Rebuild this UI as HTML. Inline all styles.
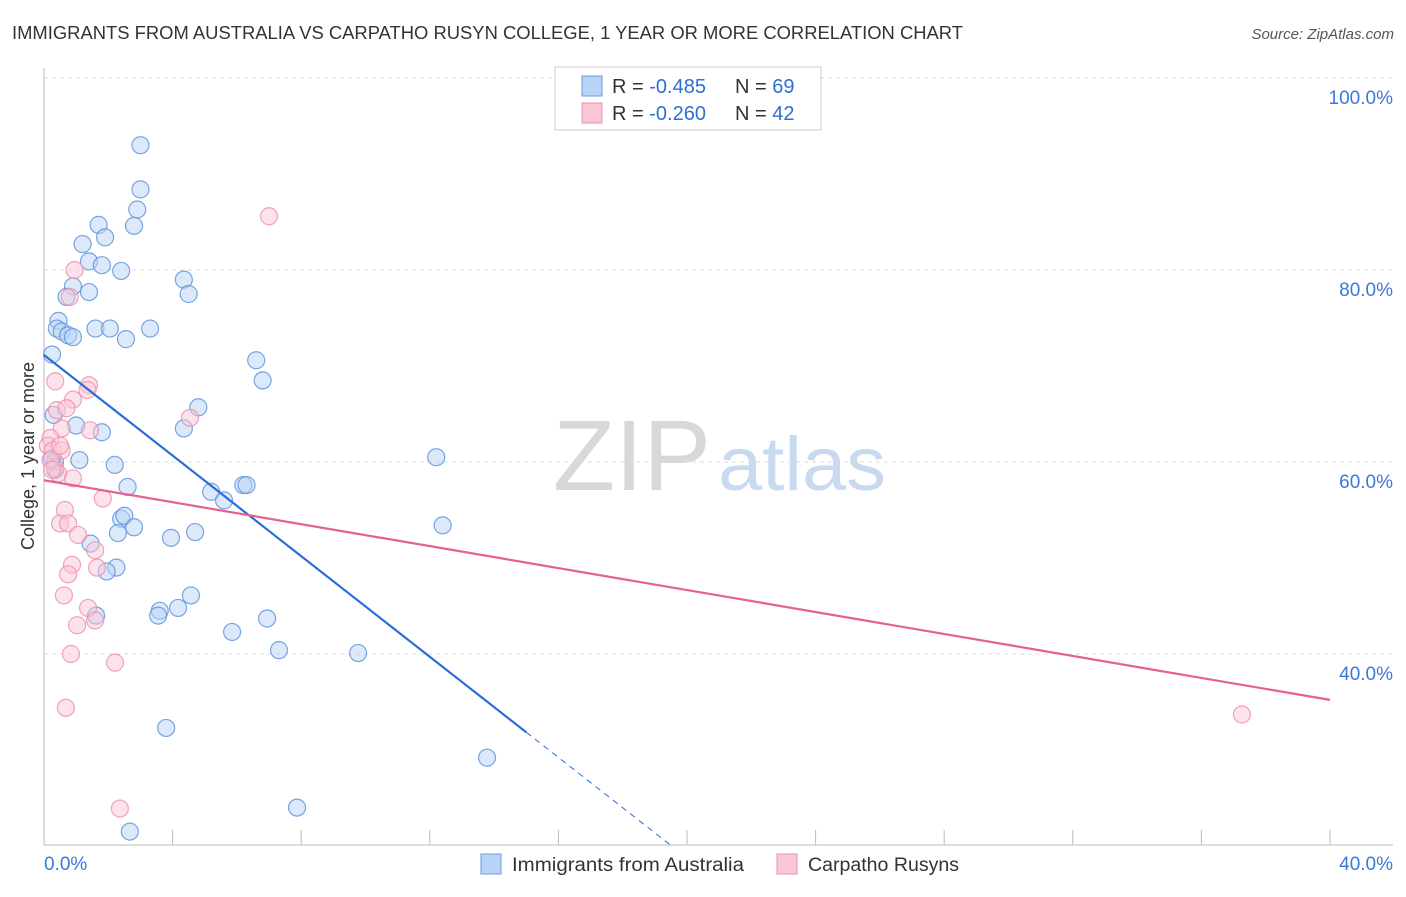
<!DOCTYPE html>
<html><head><meta charset="utf-8"><style>
body{margin:0;background:#fff;font-family:"Liberation Sans",sans-serif;}
svg text{font-family:"Liberation Sans",sans-serif;}
</style></head><body>
<svg id="chart" width="1406" height="892" viewBox="0 0 1406 892">
<text x="12" y="39" font-size="18" fill="#333" textLength="951" lengthAdjust="spacingAndGlyphs">IMMIGRANTS FROM AUSTRALIA VS CARPATHO RUSYN COLLEGE, 1 YEAR OR MORE CORRELATION CHART</text>
<text x="1394" y="39" font-size="15" fill="#555" font-style="italic" text-anchor="end">Source: ZipAtlas.com</text>
<g>
<text x="553" y="490" font-size="100" fill="#d8d8d8" font-family="Liberation Serif,serif" textLength="158" lengthAdjust="spacingAndGlyphs">ZIP</text>
<text x="718" y="490" font-size="76" fill="#c9daf0" textLength="168" lengthAdjust="spacingAndGlyphs">atlas</text>
</g>
<g id="grid"></g>
<g id="axes"></g>
<g id="marks"></g>
<g id="lines"></g>
<text x="34" y="456" font-size="18" fill="#333" text-anchor="middle" transform="rotate(-90 34 456)">College, 1 year or more</text>
<g>
<rect x="555" y="67" width="266" height="63" fill="#fff" stroke="#ccc"/>
<rect x="582" y="76" width="20" height="20" fill="#b8d3f5" stroke="#6a9be0"/>
<rect x="582" y="103" width="20" height="20" fill="#f9c6d5" stroke="#ec8fab"/>
<text y="93" font-size="20" fill="#333"><tspan x="612">R = </tspan><tspan fill="#2f6fd0">-0.485</tspan><tspan x="735">N = </tspan><tspan fill="#2f6fd0">69</tspan></text>
<text y="120" font-size="20" fill="#333"><tspan x="612">R = </tspan><tspan fill="#2f6fd0">-0.260</tspan><tspan x="735">N = </tspan><tspan fill="#2f6fd0">42</tspan></text>
</g>
<g>
<rect x="481" y="854" width="20" height="20" fill="#b8d3f5" stroke="#6a9be0"/>
<text x="512" y="871" font-size="19" fill="#333" textLength="232" lengthAdjust="spacingAndGlyphs">Immigrants from Australia</text>
<rect x="777" y="854" width="20" height="20" fill="#f9c6d5" stroke="#ec8fab"/>
<text x="808" y="871" font-size="19" fill="#333" textLength="151" lengthAdjust="spacingAndGlyphs">Carpatho Rusyns</text>
</g>
</svg>
<script>
const yTicks=[40,60,80,100];
const yTickLabels=["40.0%","60.0%","80.0%","100.0%"];
const xTicks=[0,4,8,12,16,20,24,28,32,36,40];
const xEndLabels=["0.0%","40.0%"];
const blueX=[3.0,3.0,2.9,2.8,1.7,1.9,1.2,1.4,1.8,2.4,0.9,1.4,0.7,4.35,4.5,0.45,0.4,0.55,0.75,0.9,1.6,2.05,3.3,2.55,0.25,6.6,6.8,4.8,4.35,0.3,1.0,1.8,1.1,2.2,0.35,2.6,5.2,5.6,6.2,6.3,12.2,2.4,2.5,2.8,2.3,3.95,4.7,1.45,2.25,1.95,12.4,4.57,3.6,4.17,3.55,1.62,6.94,5.85,7.31,9.77,3.8,13.78,7.87,2.67,0.34,0.25];
const blueY=[93.0,88.4,86.3,84.6,84.7,83.4,82.7,80.9,80.5,79.9,78.3,77.7,77.2,79.0,77.5,74.7,73.9,73.6,73.2,73.0,73.9,73.9,73.9,72.8,71.2,70.6,68.5,65.7,63.5,64.9,63.8,63.1,60.2,59.7,59.2,57.4,56.9,56.0,57.6,57.6,60.5,54.1,54.4,53.2,52.6,52.1,52.7,51.5,49.0,48.6,53.4,46.1,44.5,44.8,44.0,44.0,43.7,42.3,40.4,40.1,32.3,29.2,24.0,21.5,60.0,60.4];
const pinkX=[7.0,0.95,0.8,0.35,1.4,1.35,0.9,0.4,0.7,0.55,1.43,4.54,0.2,0.12,0.28,0.55,0.34,0.44,0.9,1.83,0.65,0.5,0.75,1.06,1.59,0.87,1.65,0.75,0.62,1.37,1.59,1.03,0.84,2.21,0.68,2.36,37.26,0.2,0.5,0.25];
const pinkY=[85.6,80.0,77.2,68.4,68.0,67.5,66.5,65.4,65.6,63.5,63.3,64.6,62.5,61.7,61.2,61.2,59.4,58.8,58.3,56.2,55.0,53.6,53.6,52.4,50.8,49.3,49.0,48.3,46.1,44.8,43.5,43.0,40.0,39.1,34.4,23.9,33.7,60.2,61.7,59.2];
const blueFit=[71.15,-2.62];
const pinkFit=[58.1,-0.572];

const X=v=>44+v/40*1286;
const Y=v=>78+(100-v)*9.6;
const NS="http://www.w3.org/2000/svg";
function mk(tag,parent,attrs){const e=document.createElementNS(NS,tag);for(const k in attrs)e.setAttribute(k,attrs[k]);parent.appendChild(e);return e;}
const grid=document.getElementById('grid'),axes=document.getElementById('axes'),marks=document.getElementById('marks'),lines=document.getElementById('lines');
yTicks.forEach((t,i)=>{
 const g=mk('line',grid,{x1:44,x2:1393,y1:Y(t),y2:Y(t),stroke:'#ddd','stroke-dasharray':'4,4'});
 
 
 const l=mk('text',grid,{x:1393,y:Y(t)+26,'font-size':19,fill:'#3b78d8','text-anchor':'end'});
 l.textContent=yTickLabels[i];
 
 
});
const ya=mk('line',axes,{x1:44,x2:44,y1:68,y2:845,stroke:'#bbb'});


const xa=mk('line',axes,{x1:44,x2:1393,y1:845,y2:845,stroke:'#bbb'});


xTicks.forEach(t=>{
 const tk=mk('line',axes,{x1:X(t),x2:X(t),y1:830,y2:845,stroke:'#bbb'});
 
 
});
const xl0=mk('text',axes,{x:44,y:870,'font-size':19,fill:'#3b78d8'});
xl0.textContent=xEndLabels[0];


const xl1=mk('text',axes,{x:1393,y:870,'font-size':19,fill:'#3b78d8','text-anchor':'end'});
xl1.textContent=xEndLabels[1];


function pts(xs,ys,fill,stroke,name){
 xs.forEach((x,i)=>{
  const c=mk('circle',marks,{cx:X(x),cy:Y(ys[i]),r:8.5,fill:fill,'fill-opacity':0.5,stroke:stroke,'stroke-opacity':0.8,'stroke-width':1.2});
  
  
 });
}
pts(blueX,blueY,'#b8d3f5','#5b8fdc','australia-point');
pts(pinkX,pinkY,'#f9c6d5','#ec8fab','rusyn-point');
const yMin=100-(845-78)/9.6;
const bx1=15.0, bx2=(yMin-blueFit[0])/blueFit[1];
const bl=mk('line',lines,{x1:X(0),y1:Y(blueFit[0]),x2:X(bx1),y2:Y(blueFit[0]+blueFit[1]*bx1),stroke:'#2a6dd9','stroke-width':2.2});


const bd=mk('line',lines,{x1:X(bx1),y1:Y(blueFit[0]+blueFit[1]*bx1),x2:X(bx2),y2:Y(yMin),stroke:'#2a6dd9','stroke-width':1,'stroke-dasharray':'6,5'});


const pl=mk('line',lines,{x1:X(0),y1:Y(pinkFit[0]),x2:X(40),y2:Y(pinkFit[0]+pinkFit[1]*40),stroke:'#e4628c','stroke-width':2.2});


</script>
</body></html>
